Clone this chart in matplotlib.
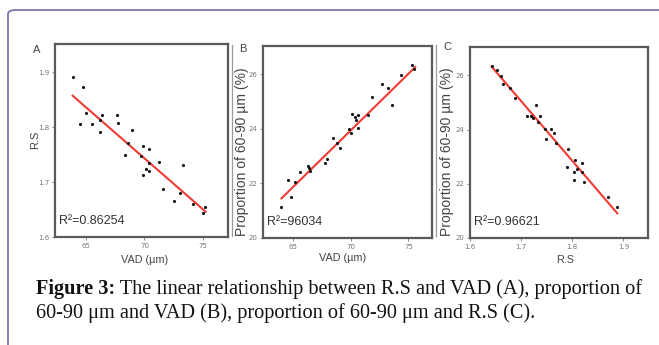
import matplotlib
matplotlib.use("Agg")
import matplotlib.pyplot as plt
from matplotlib.patches import FancyBboxPatch
from matplotlib.lines import Line2D
import numpy as np

W, H = 659, 345

# ---------------- data ----------------
a_vad = [63.92, 64.80, 65.06, 64.52, 65.57, 66.22, 66.42, 66.22, 67.63, 67.78,
         68.91, 68.60, 68.31, 69.73, 69.90, 70.41, 70.35, 70.16, 70.41, 69.90,
         71.23, 71.60, 73.30, 72.51, 73.02, 74.09, 75.00, 75.17]
a_rs = [1.891, 1.872, 1.826, 1.805, 1.805, 1.812, 1.821, 1.791, 1.821, 1.808,
        1.795, 1.771, 1.750, 1.748, 1.766, 1.760, 1.735, 1.724, 1.720, 1.712,
        1.737, 1.688, 1.731, 1.666, 1.680, 1.660, 1.643, 1.654]
a_fit_x = [63.9, 75.2]
a_fit_y = [1.857, 1.646]
a_r2 = "R²=0.86254"

b_vad = [63.99, 64.57, 64.86, 65.14, 65.63, 66.30, 66.35, 66.50, 67.80, 67.94,
         68.43, 68.80, 69.09, 69.87, 70.04, 70.10, 70.39, 70.48, 70.62, 70.62,
         71.48, 71.83, 72.75, 73.27, 73.56, 74.37, 75.35, 75.52]
b_prop = [21.14, 22.12, 21.51, 22.06, 22.43, 22.64, 22.55, 22.46, 22.76, 22.88,
          23.65, 23.47, 23.31, 24.00, 23.83, 24.53, 24.42, 24.32, 24.51, 24.04,
          24.51, 25.16, 25.65, 25.51, 24.88, 25.98, 26.34, 26.20]
b_fit_x = [64.0, 75.6]
b_fit_y = [21.45, 26.26]
b_r2 = "R²=96034"

c_rs = [1.643, 1.652, 1.660, 1.665, 1.678, 1.688, 1.712, 1.719, 1.724, 1.730,
        1.736, 1.732, 1.747, 1.749, 1.758, 1.764, 1.768, 1.792, 1.789, 1.804,
        1.806, 1.804, 1.809, 1.818, 1.818, 1.823, 1.869, 1.888]
c_prop = [26.36, 26.21, 25.99, 25.68, 25.53, 25.18, 24.51, 24.51, 24.42, 24.91,
          24.50, 24.28, 24.01, 23.67, 24.04, 23.86, 23.51, 23.30, 22.62, 22.44,
          22.89, 22.13, 22.56, 22.75, 22.44, 22.06, 21.53, 21.14]
c_fit_x = [1.642, 1.888]
c_fit_y = [26.33, 20.91]
c_r2 = "R²=0.96621"

vad_ticks = [65, 70, 75]
rs_ticks = [1.6, 1.7, 1.8, 1.9]
prop_ticks = [20, 22, 24, 26]

caption_bold = "Figure 3:"
caption_line1 = " The linear relationship between R.S and VAD (A), proportion of"
caption_line2 = "60-90 μm and VAD (B), proportion of 60-90 μm and R.S (C)."

# ---------------- figure ----------------
fig = plt.figure(figsize=(W / 100, H / 100), dpi=100)
fig.patch.set_facecolor("white")

def fx(x):
    return x / W

def fy(y):
    return 1 - y / H

def rect(x0, y0, x1, y1):
    return [fx(x0), fy(y1), (x1 - x0) / W, (y1 - y0) / H]

# outer purple rounded frame
frame = FancyBboxPatch((fx(8), fy(400)), fx(700), (400 - 10) / H,
                       boxstyle="round,pad=0,rounding_size=0.012",
                       transform=fig.transFigure, fill=False,
                       edgecolor="#7e76ad", linewidth=1.3, clip_on=False)
fig.patches.append(frame)

# faint gray borders of panel images
for xx in (232, 436):
    fig.lines.append(Line2D([fx(xx), fx(xx)], [fy(45), fy(236)],
                            transform=fig.transFigure, color="#9a9a9a", lw=0.9))

spine_col = "#5a5a5a"
tick_col = "#777777"
lab_font = ["Liberation Sans Narrow", "Liberation Sans", "DejaVu Sans"]

def style(ax, xlim, ylim, xticks, yticks, xfmt, yfmt):
    ax.set_xlim(*xlim)
    ax.set_ylim(*ylim)
    ax.set_xticks(xticks)
    ax.set_yticks(yticks)
    ax.set_xticklabels([xfmt.format(v) for v in xticks])
    ax.set_yticklabels([yfmt.format(v) for v in yticks])
    for s in ax.spines.values():
        s.set_color(spine_col)
        s.set_linewidth(1.6)
    ax.tick_params(direction="out", length=2, width=0.6, colors=tick_col,
                   labelsize=5, pad=2)

def panel(pos, x, y, fx_, fy_, r2, xlim, ylim, xticks, yticks, xfmt, yfmt):
    ax = fig.add_axes(pos)
    ax.scatter(x, y, s=5, color="#111111", zorder=3, linewidths=0)
    ax.plot(fx_, fy_, color="#f23a35", lw=1.5, zorder=2)
    style(ax, xlim, ylim, xticks, yticks, xfmt, yfmt)
    ax.text(0.025, 0.05, r2, transform=ax.transAxes, fontsize=9,
            family=lab_font, color="#333333", ha="left", va="bottom")
    return ax

axA = panel(rect(55, 44, 228, 237), a_vad, a_rs, a_fit_x, a_fit_y, a_r2,
            (62.4, 77.1), (1.6, 1.951), vad_ticks, rs_ticks, "{:d}", "{:.1f}")
axB = panel(rect(263, 46, 432, 238), b_vad, b_prop, b_fit_x, b_fit_y, b_r2,
            (62.4, 77.05), (20, 27.03), vad_ticks, prop_ticks, "{:d}", "{:d}")
axC = panel(rect(470, 47, 648, 238), c_rs, c_prop, c_fit_x, c_fit_y, c_r2,
            (1.6, 1.948), (20, 27.05), rs_ticks, prop_ticks, "{:.1f}", "{:d}")

lab_col = "#444444"
# panel letters
fig.text(fx(37), fy(50), "A", fontsize=8, family=lab_font, color=lab_col, ha="center", va="center")
fig.text(fx(243), fy(49), "B", fontsize=8, family=lab_font, color=lab_col, ha="center", va="center")
fig.text(fx(447), fy(47), "C", fontsize=8, family=lab_font, color=lab_col, ha="center", va="center")

# axis labels
fig.text(fx(35), fy(140), "R.S", fontsize=8, family=lab_font, color=lab_col,
         rotation=90, ha="center", va="center")
fig.text(fx(145), fy(260), "VAD (µm)", fontsize=7.8, family=lab_font, color=lab_col,
         ha="center", va="center")
fig.text(fx(242), fy(152), "Proportion of 60-90 µm (%)", fontsize=10, family=lab_font,
         color=lab_col, rotation=90, ha="center", va="center")
fig.text(fx(343), fy(258), "VAD (µm)", fontsize=7.8, family=lab_font, color=lab_col,
         ha="center", va="center")
fig.text(fx(447), fy(152), "Proportion of 60-90 µm (%)", fontsize=10, family=lab_font,
         color=lab_col, rotation=90, ha="center", va="center")
fig.text(fx(565), fy(260), "R.S", fontsize=7.8, family=lab_font, color=lab_col,
         ha="center", va="center")

# caption
serif = ["Liberation Serif", "DejaVu Serif"]
cap_size = 14.6
t_bold = fig.text(fx(36), fy(289), caption_bold, fontsize=cap_size, family=serif,
                  weight="bold", color="#111111", ha="left", va="center")
fig.canvas.draw()
bb = t_bold.get_window_extent()
fig.text(bb.x1 / W, fy(289), caption_line1, fontsize=cap_size, family=serif,
         color="#111111", ha="left", va="center")
fig.text(fx(36), fy(313), caption_line2, fontsize=cap_size, family=serif,
         color="#111111", ha="left", va="center")

fig.savefig("out.png", dpi=100)
